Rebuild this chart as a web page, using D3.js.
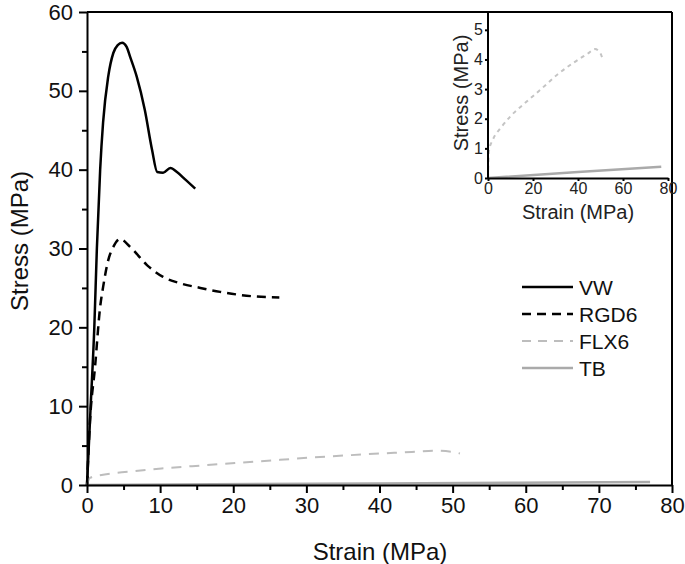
<!DOCTYPE html>
<html>
<head>
<meta charset="utf-8">
<script src="https://cdn.jsdelivr.net/npm/d3@7"></script>
<style>
  body { margin: 0; background: #fff; }
  svg { font-family: "Liberation Sans", Arial, sans-serif; }
  .domain { stroke: #000; stroke-width: 2; }
  .tick line { stroke: #000; stroke-width: 2; }
</style>
</head>
<body>
<script>
// stress-strain curves
const vw = [[0,0],[0.5,10],[1.0,20],[1.35,30],[1.8,40],[2.2,46],[2.9,51.8],[3.6,54.8],[4.2,55.8],
  [4.8,56.1],[5.4,55.6],[5.9,54.3],[6.8,51.8],[7.9,47.6],[8.9,42.5],[9.6,39.7],[10.4,39.6],
  [11.4,40.2],[12.3,39.7],[13.5,38.7],[14.8,37.6]]
const rgd6 = [[0,0],[0.4,8],[1.1,15],[1.8,22.6],[2.2,25.1],[2.9,28.5],[3.6,30.2],[4.5,31.2],
  [5.9,30.2],[8.2,27.9],[10.4,26.4],[12.7,25.6],[15.5,25],[18.2,24.5],[23.2,23.9],[26.3,23.8]]
const flx6 = [[0,0],[0.4,0.9],[2.2,1.3],[5.8,1.7],[10.2,2.1],[16,2.5],[23.6,3.0],[31,3.5],
  [38.2,3.9],[44.4,4.2],[47.5,4.35],[50,4.2],[51,4.0]]
const tb = [[0,0],[40,0.2],[77,0.38]]

const xTicks = [0,10,20,30,40,50,60,70,80]
const xMinor = [5,15,25,35,45,55,65,75]
const yTicks = [0,10,20,30,40,50,60]
const yMinor = [5,15,25,35,45,55]
const insetXTicks = [0,20,40,60,80]
const insetYTicks = [0,1,2,3,4,5]

const series = [
  {name: 'VW', data: vw, color: '#000', dash: null, w: 2.5},
  {name: 'RGD6', data: rgd6, color: '#000', dash: '9,6', w: 2.5},
  {name: 'FLX6', data: flx6, color: '#bdbdbd', dash: '10,8', w: 2},
  {name: 'TB', data: tb, color: '#aaa', dash: null, w: 2.5}
]

const W = 685, H = 564
const m = {left: 87, top: 12, right: 13, bottom: 79}
const iw = W - m.left - m.right, ih = H - m.top - m.bottom

let svg = d3.select('body').append('svg')
    .attr('width', W)
    .attr('height', H)

let x = d3.scaleLinear().domain([0, 80]).range([m.left, m.left + iw])
let y = d3.scaleLinear().domain([0, 60]).range([m.top + ih, m.top])

// frame top/right
svg.append('line').attr('x1', m.left).attr('x2', m.left + iw).attr('y1', m.top).attr('y2', m.top)
    .attr('stroke', '#000').attr('stroke-width', 2)
svg.append('line').attr('x1', m.left + iw).attr('x2', m.left + iw).attr('y1', m.top).attr('y2', m.top + ih)
    .attr('stroke', '#000').attr('stroke-width', 2)

let line = d3.line().x(d => x(d[0])).y(d => y(d[1])).curve(d3.curveMonotoneX)

series.forEach(s => {
    svg.append('path')
        .attr('d', line(s.data))
        .attr('fill', 'none')
        .attr('stroke', s.color)
        .attr('stroke-width', s.w)
        .attr('stroke-dasharray', s.dash)
})

let gx = svg.append('g').attr('transform', `translate(0,${m.top + ih})`)
    .call(d3.axisBottom(x).tickValues(xTicks).tickSize(8).tickSizeOuter(0).tickPadding(4))
gx.selectAll('text').attr('font-size', 22).attr('fill', '#111').attr('font-family', null)
svg.append('g').attr('transform', `translate(0,${m.top + ih})`)
    .call(d3.axisBottom(x).tickValues(xMinor).tickSize(5).tickFormat(''))
    .select('.domain').remove()

let gy = svg.append('g').attr('transform', `translate(${m.left},0)`)
    .call(d3.axisLeft(y).tickValues(yTicks).tickSize(8).tickSizeOuter(0).tickPadding(6))
gy.selectAll('text').attr('font-size', 22).attr('fill', '#111').attr('font-family', null)
svg.append('g').attr('transform', `translate(${m.left},0)`)
    .call(d3.axisLeft(y).tickValues(yMinor).tickSize(5).tickFormat(''))
    .select('.domain').remove()

svg.append('text').attr('x', 380).attr('y', 560).attr('text-anchor', 'middle')
    .attr('font-size', 24).attr('fill', '#111').text('Strain (MPa)')
svg.append('text').attr('transform', 'translate(28,241) rotate(-90)').attr('text-anchor', 'middle')
    .attr('font-size', 24).attr('fill', '#111').text('Stress (MPa)')

// legend
let lg = svg.append('g')
series.forEach((s, i) => {
    let yy = 287 + i * 27
    lg.append('line').attr('x1', 522).attr('x2', 573).attr('y1', yy).attr('y2', yy)
        .attr('stroke', s.color).attr('stroke-width', s.w)
        .attr('stroke-dasharray', s.dash ? (i == 1 ? '9,6' : '9,7') : null)
    lg.append('text').attr('x', 579).attr('y', yy + 8).attr('font-size', 21).attr('fill', '#111').text(s.name)
})

// inset
let ix = d3.scaleLinear().domain([0, 80]).range([488, 668])
let iy = d3.scaleLinear().domain([0, 5.5]).range([178, 15])
let iline = d3.line().x(d => ix(d[0])).y(d => iy(d[1])).curve(d3.curveMonotoneX)

svg.append('path').attr('d', iline(flx6)).attr('fill', 'none')
    .attr('stroke', '#c4c4c4').attr('stroke-width', 2).attr('stroke-dasharray', '4,4')
svg.append('path').attr('d', iline(tb)).attr('fill', 'none')
    .attr('stroke', '#aaa').attr('stroke-width', 2.5)

let igx = svg.append('g').attr('transform', 'translate(0,178)')
    .call(d3.axisBottom(ix).tickValues(insetXTicks).tickSize(3).tickSizeOuter(0).tickPadding(2))
igx.select('.domain').attr('stroke', '#999').attr('stroke-width', 1.5)
igx.selectAll('.tick line').attr('stroke', '#999').attr('stroke-width', 1)
igx.selectAll('text').attr('font-size', 16).attr('fill', '#222').attr('font-family', null)

let igy = svg.append('g').attr('transform', 'translate(488,0)')
    .call(d3.axisLeft(iy).tickValues(insetYTicks).tickFormat(d3.format('d')).tickSize(3).tickSizeOuter(0).tickPadding(2))
igy.select('.domain').attr('d', `M0,${iy(0)}V12`).attr('stroke', '#999').attr('stroke-width', 1.5)
igy.selectAll('.tick line').attr('stroke', '#999').attr('stroke-width', 1)
igy.selectAll('text').attr('font-size', 16).attr('fill', '#222').attr('font-family', null)

svg.append('text').attr('x', 578).attr('y', 219).attr('text-anchor', 'middle')
    .attr('font-size', 20).attr('fill', '#222').text('Strain (MPa)')
svg.append('text').attr('transform', 'translate(468,93) rotate(-90)').attr('text-anchor', 'middle')
    .attr('font-size', 20).attr('fill', '#222').text('Stress (MPa)')
</script>
</body>
</html>
